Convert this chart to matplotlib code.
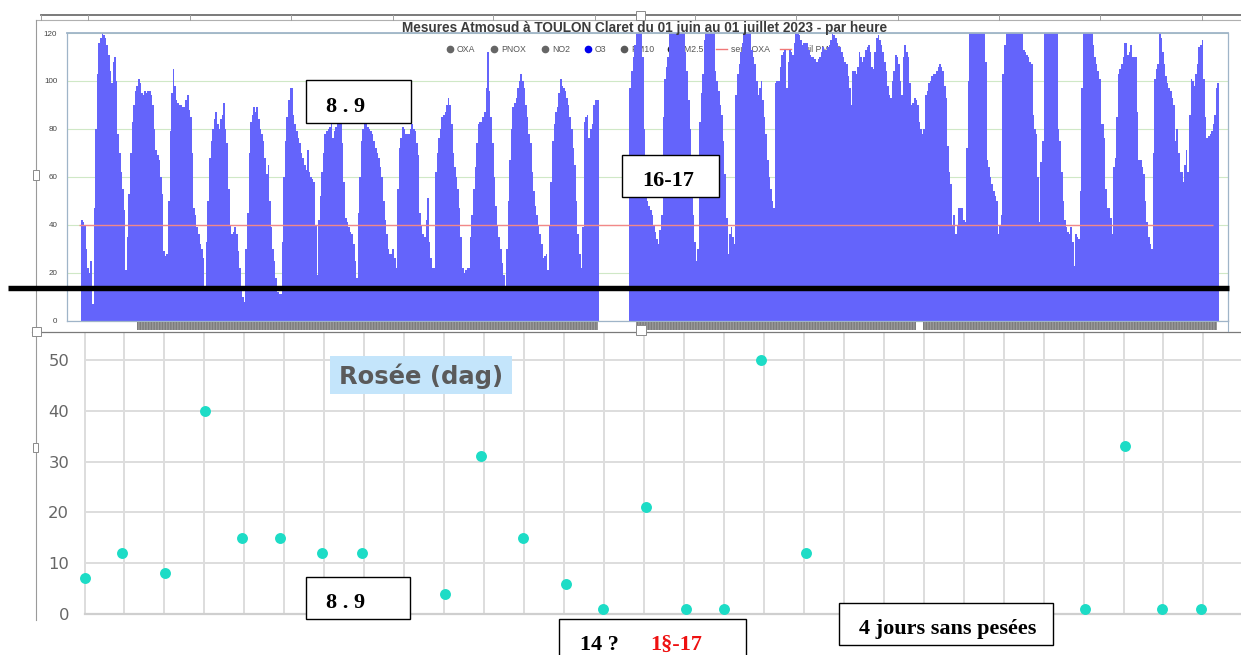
import numpy as np
import matplotlib
matplotlib.use("Agg")
import matplotlib.pyplot as plt
from matplotlib.patches import Rectangle
from matplotlib.lines import Line2D
from matplotlib.transforms import Affine2D

# ---------------- DATA ----------------
N = None  # missing hour
o3_j01 = [42, 41, 40, 30, 22, 20, 25, 7, 47, 80, 103, 116, 118, 120, 119, 118, 115, 111, 104, 99, 108, 110, 100, 78]
o3_j02 = [70, 62, 55, 46, 21, 35, 53, 70, 83, 90, 96, 98, 101, 99, 95, 94, 96, 95, 96, 96, 94, 90, 80, 71]
o3_j03 = [69, 67, 60, 53, 29, 27, 28, 50, 79, 95, 105, 98, 92, 91, 90, 90, 89, 89, 92, 94, 88, 85, 70, 47]
o3_j04 = [44, 39, 36, 32, 30, 26, 14, 33, 50, 68, 75, 80, 84, 87, 82, 80, 84, 86, 91, 80, 74, 55, 40, 36]
o3_j05 = [37, 39, 36, 29, 22, 14, 10, 8, 30, 45, 70, 83, 86, 89, 87, 89, 84, 80, 78, 75, 68, 61, 65, 50]
o3_j06 = [39, 30, 25, 18, 12, 11, 11, 33, 60, 75, 85, 92, 97, 97, 86, 82, 79, 76, 74, 70, 68, 65, 63, 71]
o3_j07 = [62, 60, 59, 58, 40, 19, 42, 52, 62, 70, 78, 79, 80, 81, 82, 76, 79, 81, 82, 86, 83, 74, 58, 43]
o3_j08 = [41, 39, 37, 36, 32, 25, 18, 45, 60, 75, 80, 83, 83, 81, 80, 79, 78, 75, 72, 70, 68, 64, 60, 50]
o3_j09 = [42, 36, 30, 28, 28, 30, 26, 22, 55, 72, 76, 81, 80, 78, 78, 78, 80, 82, 80, 79, 74, 69, 45, 40]
o3_j10 = [36, 35, 42, 51, 33, 26, 22, 22, 62, 70, 76, 80, 85, 86, 87, 90, 93, 90, 82, 70, 64, 60, 55, 47]
o3_j11 = [35, 22, 20, 21, 22, 22, 35, 44, 55, 64, 74, 82, 83, 83, 85, 87, 97, 112, 96, 85, 74, 60, 48, 40]
o3_j12 = [35, 30, 24, 19, 14, 30, 50, 67, 80, 89, 91, 93, 97, 100, 103, 100, 97, 90, 85, 78, 74, 62, 54, 48]
o3_j13 = [44, 40, 36, 32, 26, 27, 28, 21, 40, 58, 75, 82, 87, 89, 95, 101, 98, 97, 96, 93, 90, 85, 80, 72]
o3_j14 = [65, 50, 36, 28, 22, 39, 83, 85, 86, 76, 80, 82, 90, 92, 92, 92, N, N, N, N, N, N, N, N]
o3_j15 = [N, N, N, N, N, N, N, N, N, N, N, 97, 104, 110, 115, 125, 125, 125, 125, 110, 80, 51, 50, 48]
o3_j16 = [46, 44, 40, 37, 34, 32, 38, 44, 85, 101, 106, 110, 120, 125, 125, 125, 125, 125, 125, 125, 125, 125, 112, 104]
o3_j17 = [92, 80, 60, 44, 33, 25, 30, 83, 95, 103, 117, 125, 125, 125, 125, 125, 120, 104, 100, 96, 90, 86, 75, 61]
o3_j18 = [43, 28, 36, 39, 35, 32, 94, 103, 107, 112, 116, 120, 125, 125, 125, 125, 113, 110, 107, 100, 94, 97, 100, 92]
o3_j19 = [85, 78, 67, 60, 55, 50, 47, 99, 100, 100, 106, 111, 112, 113, 97, 108, 113, 112, 111, 116, 120, 120, 119, 117]
o3_j20 = [115, 116, 116, 116, 113, 111, 110, 110, 109, 108, 109, 110, 112, 114, 113, 113, 114, 115, 117, 120, 119, 118, 116, 114]
o3_j21 = [114, 112, 110, 108, 107, 102, 97, 90, 104, 104, 103, 106, 112, 110, 108, 110, 113, 114, 115, 112, 106, 105, 112, 118]
o3_j22 = [119, 117, 115, 112, 108, 104, 98, 94, 93, 100, 104, 111, 110, 107, 100, 94, 110, 115, 112, 110, 99, 90, 91, 93]
o3_j23 = [92, 90, 83, 80, 78, 80, 94, 96, 99, 100, 102, 103, 103, 104, 106, 107, 106, 104, 98, 93, 73, 62, 57, 40]
o3_j24 = [44, 36, 40, 47, 47, 47, 42, 41, 72, 100, 120, 125, 125, 125, 125, 125, 125, 125, 125, 125, 108, 67, 64, 60]
o3_j25 = [57, 54, 52, 50, 36, 40, 44, 103, 115, 120, 125, 125, 125, 125, 125, 125, 125, 125, 125, 125, 113, 112, 111, 110]
o3_j26 = [108, 107, 86, 80, 78, 60, 41, 66, 75, 120, 125, 125, 125, 125, 125, 125, 125, 125, 80, 75, 62, 50, 42, 39]
o3_j27 = [37, 36, 39, 33, 23, 36, 35, 34, 54, 97, 120, 125, 125, 125, 125, 120, 115, 110, 107, 104, 101, 82, 82, 76]
o3_j28 = [55, 47, 47, 43, 36, 64, 68, 85, 103, 105, 107, 110, 116, 116, 111, 112, 115, 110, 110, 110, 87, 67, 67, 64]
o3_j29 = [61, 50, 41, 35, 32, 30, 70, 101, 105, 107, 120, 118, 112, 107, 102, 99, 97, 96, 93, 90, 75, 80, 70, 62]
o3_j30 = [62, 58, 65, 71, 62, 86, 101, 100, 98, 103, 107, 114, 115, 117, 101, 85, 76, 77, 78, 79, 82, 86, 97, 99]

o3_ticks = [0, 20, 40, 60, 80, 100, 120]
seuil_oxa = 40
title_top = "Mesures Atmosud à TOULON Claret du 01 juin au 01 juillet 2023 - par heure"
legend_labels = ["OXA", "PNOX", "NO2", "O3", "PM10", "PM2.5", "seuil OXA", "seuil PM2.5"]
legend_colors = ["#666666", "#666666", "#666666", "#0000ee", "#5a5a5a", "#222222", "#f07878", "#f07878"]

dew_day = [0, 0.93, 2.02, 3.02, 3.94, 4.90, 5.95, 6.95, 9.01, 9.92, 10.97, 12.05,
           12.97, 14.04, 15.06, 16.00, 16.93, 18.06, 25.04, 26.04, 26.96, 27.95]
dew_g = [7, 12, 8, 40, 15, 15, 12, 12, 4, 31, 15, 6, 1, 21, 1, 1, 50, 12, 1, 33, 1, 1]
dew_ticks = [0, 10, 20, 30, 40, 50]
dew_title = "Rosée (dag)"

# ---------------- FIGURE ----------------
W, H = 1241, 655
fig = plt.figure(figsize=(W / 100, H / 100), dpi=100)
PX = Affine2D().scale(1.0 / W, -1.0 / H).translate(0, 1) + fig.transFigure


def axrect(x0, y0, x1, y1):
    return [x0 / W, 1 - y1 / H, (x1 - x0) / W, (y1 - y0) / H]


# ---- top chart: hourly O3 bars ----
ax1 = fig.add_axes(axrect(67, 33, 1228, 320.7))
o3_days = [o3_j01, o3_j02, o3_j03, o3_j04, o3_j05, o3_j06, o3_j07, o3_j08, o3_j09, o3_j10,
           o3_j11, o3_j12, o3_j13, o3_j14, o3_j15, o3_j16, o3_j17, o3_j18, o3_j19, o3_j20,
           o3_j21, o3_j22, o3_j23, o3_j24, o3_j25, o3_j26, o3_j27, o3_j28, o3_j29, o3_j30]
o3 = np.array([np.nan if v is None else v for d in o3_days for v in d], dtype=float)
hours = np.arange(len(o3))
ok = ~np.isnan(o3)
ax1.bar(hours[ok], o3[ok], width=1.05, align="edge", color="#6464fb", linewidth=0, zorder=2)
for t in o3_ticks:
    ax1.axhline(t, color="#cfe8c6", lw=0.8, zorder=1)
ax1.hlines(seuil_oxa, -1.3, 716.5, color="#f28888", lw=1.0, zorder=3)
ax1.set_xlim(-8.86, 725.7)
ax1.set_ylim(0, 120)
ax1.set_xticks([])
ax1.set_yticks(o3_ticks)
ax1.tick_params(axis="y", length=0, pad=7, labelsize=5.8, labelcolor="#444444")
for lab in ax1.get_yticklabels():
    lab.set_family("Liberation Sans")
for s in ax1.spines.values():
    s.set_color("#9fb4c8")
    s.set_linewidth(0.9)
ax1.spines["top"].set_linewidth(1.3)

# legend (drawn beneath the bars, as in the source)
leg_x = [450, 494, 545, 588, 624, 671, 722, 786]
for lx, lab, col in zip(leg_x, legend_labels, legend_colors):
    if lab.startswith("seuil"):
        ax1.add_artist(Line2D([lx - 6, lx + 5], [49, 49], transform=PX, color=col, lw=1.0, zorder=1))
        tx = lx + 9
    else:
        ax1.add_artist(Line2D([lx], [49], transform=PX, marker="o", ms=4.5, color=col,
                              lw=0, zorder=1))
        tx = lx + 7
    ax1.text(tx, 49.5, lab, transform=PX, fontsize=6.3, color="#555555", va="center",
             ha="left", family="Liberation Sans", zorder=1)

fig.text(645, 28, title_top, transform=PX, ha="center", va="center", fontsize=9.8,
         fontweight="bold", color="#3c3c3c", family="Liberation Sans")

# ---- bottom chart: dew scatter ----
ax2 = fig.add_axes(axrect(84.5, 333, 1241, 614))
ax2.set_xlim(0, 28.94)
ax2.set_ylim(0, 55.3)
ax2.set_xticks(range(29))
ax2.set_yticks(dew_ticks)
ax2.set_xticklabels([])
ax2.grid(True, color="#dddddd", lw=1.4)
ax2.set_axisbelow(True)
for gl in ax2.get_xgridlines():
    gl.set_clip_on(False)
ax2.axhline(0, color="#cfcfcf", lw=1.6, zorder=1, clip_on=False)
for s in ax2.spines.values():
    s.set_visible(False)
ax2.tick_params(length=0)
ax2.tick_params(axis="y", pad=11, labelsize=11.8, labelcolor="#666666")
ax2.scatter(dew_day, dew_g, s=62, color="#1ddcc6", linewidths=0, zorder=3, clip_on=False)

fig.add_artist(Rectangle((330, 356), 182, 38, transform=PX, fc="#c4e5fb", ec="none", zorder=4))
fig.text(421, 376, dew_title, transform=PX, ha="center", va="center", fontsize=17.5,
         fontweight="bold", color="#5a5a5a", family="DejaVu Sans", zorder=5)

# ---- screenshot frame decorations ----
fig.add_artist(Line2D([41, 1241], [15, 15], transform=PX, color="#707070", lw=1.3, zorder=2))
fig.add_artist(Line2D([35.5, 1241], [20, 20], transform=PX, color="#b0b0b0", lw=0.8, zorder=2))
for tx in [41, 88, 190, 291, 393, 493, 595, 695, 796, 898, 999, 1100, 1202]:
    fig.add_artist(Line2D([tx, tx], [15, 20], transform=PX, color="#a0a0a0", lw=0.7, zorder=2))
fig.add_artist(Line2D([35.5, 35.5], [20, 620], transform=PX, color="#9a9a9a", lw=0.8, zorder=2))
fig.add_artist(Line2D([32, 1241], [332, 332], transform=PX, color="#7a7a7a", lw=0.9, zorder=2))
fig.add_artist(Line2D([1228, 1228], [320, 331], transform=PX, color="#9fb4c8", lw=0.8, zorder=2))
for x0, x1 in [(137, 598), (636, 916), (923, 1217)]:
    fig.add_artist(Rectangle((x0, 322), x1 - x0, 8, transform=PX, fc="#9a9a9a", ec="#7c7c7c",
                             lw=0, hatch="||||||", zorder=1))
for hx, hy, hw, hh in [(636, 11, 9, 9), (636, 325, 10, 10), (32, 327, 9, 9), (33, 170, 6, 10), (33, 443, 5, 9)]:
    fig.add_artist(Rectangle((hx, hy), hw, hh, transform=PX, fc="white", ec="#8a8a8a",
                             lw=0.7, zorder=7))

# thick black separator
fig.add_artist(Line2D([8, 1229], [288, 288], transform=PX, color="black", lw=3.9,
                      solid_capstyle="butt", zorder=4))

# ---- annotation boxes ----
for (x0, y0, x1, y1) in [(306, 80, 411, 123), (622, 155, 719, 197), (306, 577, 410, 619),
                         (559, 619, 746, 664), (839, 603, 1053, 645)]:
    fig.add_artist(Rectangle((x0, y0), x1 - x0, y1 - y0, transform=PX, fc="white",
                             ec="black", lw=1.0, zorder=6))

serif = dict(transform=PX, fontsize=16, fontweight="bold", family="Liberation Serif",
             va="baseline", ha="left", zorder=8)
fig.text(326, 112, "8 . 9", color="black", **serif)
fig.text(642, 185.5, "16-17", color="black", **serif)
fig.text(326, 608, "8 . 9", color="black", **serif)
fig.text(580, 650, "14 ?", color="black", **serif)
fig.text(650, 650, "1§-17", color="#ee1111", **serif)
fig.text(859, 634, "4 jours sans pesées", color="black", **serif)

fig.savefig("out.png", dpi=100)
